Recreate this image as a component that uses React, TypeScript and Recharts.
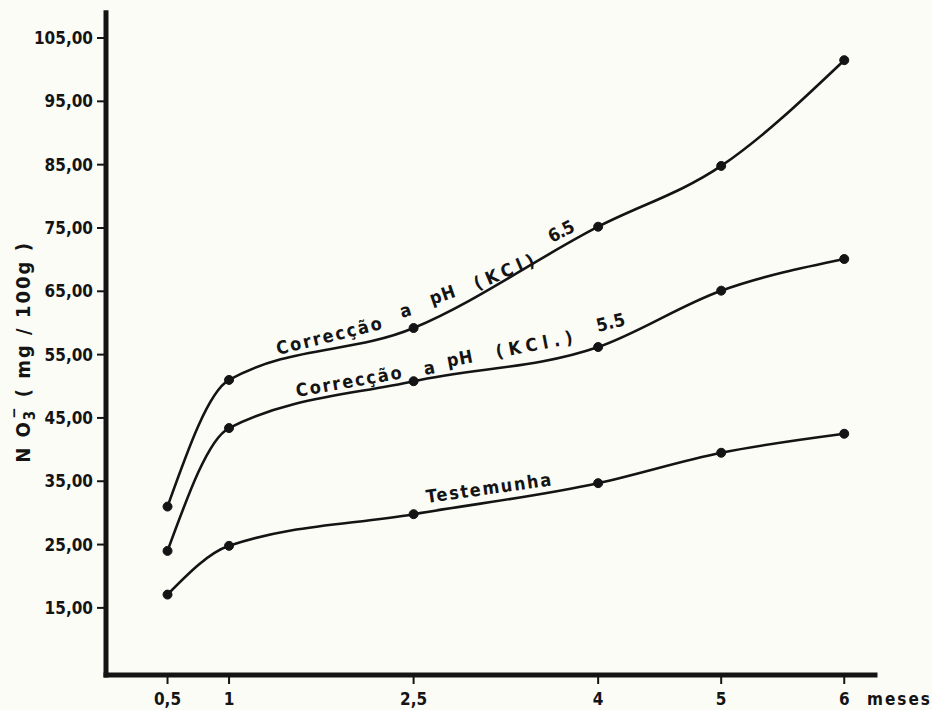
import { LineChart, Line, XAxis, YAxis } from 'recharts';

// months after liming, NO3- in mg / 100 g
const months = [0.5, 1, 2.5, 4, 5, 6];
const ph65 = [31.0, 51.0, 59.2, 75.2, 84.8, 101.5];
const ph55 = [24.0, 43.4, 50.8, 56.2, 65.1, 70.1];
const testemunha = [17.1, 24.8, 29.8, 34.7, 39.5, 42.5];

const yTicks = [15, 25, 35, 45, 55, 65, 75, 85, 95, 105];
const xTicks = [0.5, 1, 2.5, 4, 5, 6];

const data = months.map((m, i) => ({
  m,
  ph65: ph65[i],
  ph55: ph55[i],
  testemunha: testemunha[i],
}));

const INK = '#141414';
const FONT = "'DejaVu Sans Condensed', 'Liberation Sans Narrow', 'DejaVu Sans', sans-serif";

const fmtY = (v: number) => v.toFixed(2).replace('.', ',');
const fmtX = (v: number) => String(v).replace('.', ',');

// curve captions, written word by word so they follow the lines
const captions = [
  { text: 'Correcção', x: 278, y: 355, angle: -14, len: 108 },
  { text: 'a', x: 402, y: 318, angle: -17 },
  { text: 'pH', x: 432, y: 305, angle: -19, len: 26 },
  { text: '(KCl)', x: 477, y: 290, angle: -23, len: 64 },
  { text: '6.5', x: 552, y: 243, angle: -27, len: 27 },
  { text: 'Correcção', x: 297, y: 397, angle: -10, len: 107 },
  { text: 'a', x: 425, y: 375, angle: -11 },
  { text: 'pH', x: 448, y: 367, angle: -11, len: 26 },
  { text: '(KCl.)', x: 497, y: 358, angle: -11, len: 78 },
  { text: '5.5', x: 598, y: 332, angle: -14, len: 29 },
  { text: 'Testemunha', x: 427, y: 503, angle: -8, len: 126 },
];

const dot = { r: 4.5, fill: INK, stroke: INK, strokeWidth: 1 };

export default function App() {
  return (
    <div style={{ position: 'absolute', left: 0, top: 0, width: 932, height: 710, background: '#fcfcf7' }}>
      <LineChart
        width={932}
        height={710}
        data={data}
        margin={{ top: 12.7, right: 57, bottom: 5, left: 46 }}
      >
        <XAxis
          type="number"
          dataKey="m"
          domain={[0, 6.25]}
          allowDataOverflow
          ticks={xTicks}
          tickFormatter={fmtX}
          height={30}
          axisLine={{ stroke: INK, strokeWidth: 5, strokeLinecap: 'square' }}
          tickLine={{ stroke: INK, strokeWidth: 2 }}
          tickSize={9}
          tickMargin={9}
          tick={{ fill: INK, fontSize: 17, fontWeight: 600, fontFamily: FONT }}
        />
        <YAxis
          type="number"
          domain={[4.4, 109]}
          allowDataOverflow
          ticks={yTicks}
          tickFormatter={fmtY}
          width={60}
          axisLine={{ stroke: INK, strokeWidth: 5, strokeLinecap: 'square' }}
          tickLine={{ stroke: INK, strokeWidth: 2 }}
          tickSize={9}
          tickMargin={4}
          tick={{ fill: INK, fontSize: 17, fontWeight: 600, fontFamily: FONT }}
        />
        <Line type="monotone" dataKey="ph65" stroke={INK} strokeWidth={2.6} dot={dot} isAnimationActive={false} />
        <Line type="monotone" dataKey="ph55" stroke={INK} strokeWidth={2.6} dot={dot} isAnimationActive={false} />
        <Line type="monotone" dataKey="testemunha" stroke={INK} strokeWidth={2.6} dot={dot} isAnimationActive={false} />
      </LineChart>

      <svg
        width={932}
        height={710}
        style={{ position: 'absolute', left: 0, top: 0, pointerEvents: 'none' }}
        fontFamily={FONT}
        fontWeight={600}
        fill={INK}
      >
        {captions.map((c, i) => (
          <text
            key={i}
            x={c.x}
            y={c.y}
            fontSize={18}
            transform={`rotate(${c.angle} ${c.x} ${c.y})`}
            textLength={c.len}
            lengthAdjust={c.len ? 'spacing' : undefined}
          >
            {c.text}
          </text>
        ))}
        <text x={867} y={705} fontSize={17} letterSpacing={2}>meses</text>
        <text
          x={30}
          y={352}
          fontSize={20}
          textAnchor="middle"
          letterSpacing={2}
          transform="rotate(-90 30 352)"
        >
          <tspan>N O</tspan>
          <tspan dy={5} fontSize={15}>3</tspan>
          <tspan dx={-10} dy={-16} fontSize={15}>−</tspan>
          <tspan dy={11}>{'  ( mg / 100g )'}</tspan>
        </text>
      </svg>
    </div>
  );
}
